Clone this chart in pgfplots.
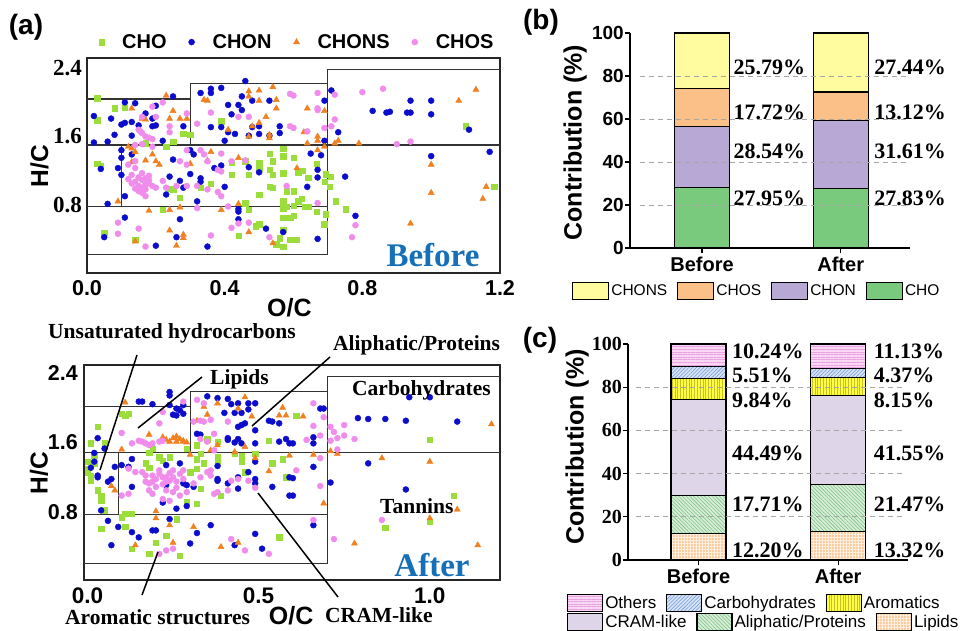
\documentclass[border=0pt]{standalone}
\usepackage{fontspec}
\setmainfont{Liberation Serif}
\setsansfont{Liberation Sans}
\usepackage{pgfplots}
\pgfplotsset{compat=1.18}
\usetikzlibrary{patterns,patterns.meta}

\newcommand{\sfb}[1]{\sffamily\bfseries\fontsize{#1}{#1}\selectfont}
\newcommand{\rmb}[1]{\rmfamily\bfseries\fontsize{#1}{#1}\selectfont}
\newcommand{\sfr}[1]{\sffamily\fontsize{#1}{#1}\selectfont}

\definecolor{choG}{RGB}{155,222,60}
\definecolor{chonB}{RGB}{12,12,205}
\definecolor{chonsO}{RGB}{240,128,32}
\definecolor{chosP}{RGB}{240,140,235}
\definecolor{barCHO}{RGB}{122,202,125}
\definecolor{barCHON}{RGB}{184,168,214}
\definecolor{barCHOS}{RGB}{250,192,135}
\definecolor{barCHONS}{RGB}{255,252,160}
\definecolor{othF}{RGB}{250,215,245}\definecolor{othL}{RGB}{232,160,222}
\definecolor{carbF}{RGB}{215,228,245}\definecolor{carbL}{RGB}{110,150,215}
\definecolor{aromF}{RGB}{255,255,70}\definecolor{aromL}{RGB}{200,190,40}
\definecolor{cramF}{RGB}{222,214,232}
\definecolor{aliF}{RGB}{215,238,215}\definecolor{aliL}{RGB}{120,190,130}
\definecolor{lipF}{RGB}{250,205,160}\definecolor{lipL}{RGB}{255,240,225}
\definecolor{txtBlue}{RGB}{22,112,184}

\tikzset{regline/.style={line width=1.1pt, black!80},
  blab/.style={anchor=west, inner sep=0pt, font=\rmb{22}},
  ann/.style={anchor=west, inner sep=0pt, font=\rmb{21.5}},
  gdash/.style={gray!70, line width=1pt, dash pattern=on 5pt off 4pt},
  pOth/.style={fill=othF, postaction={pattern={Lines[angle=0, distance=2.6pt, line width=0.55pt]}, pattern color=othL}},
  pCarb/.style={fill=carbF, postaction={pattern={Lines[angle=45, distance=2.6pt, line width=0.55pt]}, pattern color=carbL}},
  pArom/.style={fill=aromF, postaction={pattern={Lines[angle=90, distance=2.8pt, line width=0.6pt]}, pattern color=aromL}},
  pCram/.style={fill=cramF},
  pAli/.style={fill=aliF, postaction={pattern={Lines[angle=-45, distance=2.6pt, line width=0.55pt]}, pattern color=aliL}},
  pLip/.style={fill=lipF, postaction={pattern={Hatch[distance=3pt, line width=0.7pt]}, pattern color=lipL}}}
\pgfplotsset{
  vkscatter/.style={scale only axis, height=215pt,
    major tick length=0pt,
    axis line style={line width=1.2pt, black!85},
    xlabel={O/C}, ylabel={H/C}},
  pCHO/.style={only marks, mark=square*, mark size=2.7pt, color=choG},
  pCHON/.style={only marks, mark=*, mark size=3pt, color=chonB},
  pCHONS/.style={only marks, mark=triangle*, mark size=3.5pt, color=chonsO},
  pCHOS/.style={only marks, mark=*, mark size=3pt, color=chosP},
  vkbar/.style={scale only axis, width=280pt, clip=false,
    ymin=0, ymax=100,
    axis x line*=bottom, axis y line*=left,
    axis line style={line width=1.2pt},
    ybar stacked, bar width=55pt,
    xtick={0,1}, xticklabels={Before,After},
    ytick={0,20,40,60,80,100}, yticklabels={0,20,40,60,80,100},
    tick align=outside, major tick length=5pt,
    tick style={black, line width=1.2pt},
    xticklabel style={font=\sfb{20}, inner sep=0pt, yshift=-4pt},
    ylabel={Contribution (\%)}},
  bseg/.style={draw=black, line width=1.1pt},
  legax/.style={scale only axis, width=280pt, height=215pt, hide axis,
    xmin=0, xmax=1, ymin=0, ymax=1},
}

\begin{document}
\begin{tikzpicture}
\useasboundingbox (0pt,0pt) rectangle (965pt,-630pt);

%================ (a) Before =================
\begin{axis}[vkscatter,
  at={(87pt,-273pt)}, anchor=south west, width=413pt,
  xmin=0, xmax=1.2, ymin=0, ymax=2.52,
  xtick={0,0.4,0.8,1.2}, xticklabels={0.0,0.4,0.8,1.2},
  ytick={0.8,1.6,2.4}, yticklabels={0.8,1.6,2.4},
  xticklabel style={font=\sfb{21.5}, inner sep=0pt, yshift=-7pt},
  yticklabel style={font=\rmb{23}, inner sep=0pt, xshift=-5pt},
  xlabel style={font=\sfb{25}, at={(axis description cs:0.49,-0.163)}, anchor=center},
  ylabel style={font=\sfb{24.5}, at={(axis description cs:-0.115,0.498)}, anchor=center},
  legend columns=4,
  legend style={at={(axis description cs:0.028,1.074)}, anchor=west, draw=none, fill=none,
    inner sep=0pt, font=\sfb{20}, 
    /tikz/every odd column/.append style={column sep=16pt},
    /tikz/every even column/.append style={column sep=20pt}},
]
\draw[regline] (axis cs:0,1.5) -- (axis cs:1.2,1.5);
\draw[regline] (axis cs:0,2.04) -- (axis cs:0.3,2.04);
\draw[regline] (axis cs:0.3,1.5) -- (axis cs:0.3,2.22) -- (axis cs:0.7,2.22);
\draw[regline] (axis cs:0.7,0.22) -- (axis cs:0.7,2.39) -- (axis cs:1.2,2.39);
\draw[regline] (axis cs:0.1,0.78) -- (axis cs:0.1,1.5);
\draw[regline] (axis cs:0,0.78) -- (axis cs:0.7,0.78);
\draw[regline] (axis cs:0,0.22) -- (axis cs:0.7,0.22);

\addplot[pCHO] coordinates {
(0.03,2.05)(0.08,1.93)(0.11,1.94)(0.03,1.79)(0.28,1.63)(0.30,1.62)(0.39,1.78)(0.23,1.48)(0.17,1.52)(0.25,1.54)
(0.03,1.28)(0.04,1.25)(0.42,1.29)(0.46,1.31)(0.50,1.29)(0.50,1.23)(0.53,1.40)(0.54,1.31)(0.53,1.21)(0.57,1.46)
(0.57,1.37)(0.60,1.35)(0.54,1.15)(0.57,1.17)(0.47,1.15)(0.42,1.15)(0.36,1.05)(0.33,1.00)(0.24,0.99)(0.25,0.98)
(0.53,1.01)(0.54,1.00)(0.58,0.96)(0.60,0.96)(0.50,0.92)(0.57,0.84)(0.57,0.76)(0.58,0.78)(0.60,0.79)(0.47,0.74)
(0.46,0.82)(0.22,0.74)(0.57,0.65)(0.59,0.65)(0.60,0.67)(0.50,0.57)(0.49,0.55)(0.57,0.51)(0.44,0.44)(0.56,0.41)
(0.55,0.34)(0.57,0.31)(0.59,0.39)(0.05,0.47)(0.14,0.39)(0.27,0.88)
(0.667,1.28)(0.626,1.20)(0.614,1.18)(0.643,1.12)(0.690,1.07)(0.694,1.16)(0.708,1.13)(0.706,1.01)(0.723,0.84)
(0.752,0.75)(0.694,0.69)(0.689,0.57)(0.609,0.39)(0.667,0.72)(0.624,0.87)(0.643,0.78)(0.634,0.78)(0.614,0.84)
(1.101,1.72)(1.183,1.01)};
\addlegendentry{CHO}
\addplot[pCHON] coordinates {
(0.46,2.25)(0.36,2.16)(0.39,2.17)(0.33,2.11)(0.36,2.11)(0.25,2.07)(0.45,2.07)(0.53,2.02)(0.48,2.02)(0.41,1.97)
(0.44,1.97)(0.11,2.00)(0.14,1.99)(0.20,1.96)(0.02,1.84)(0.07,1.81)(0.11,1.76)(0.10,1.74)(0.13,1.77)(0.17,1.87)
(0.19,1.81)(0.20,1.73)(0.19,1.72)(0.15,1.73)(0.28,1.72)(0.08,1.62)(0.13,1.61)(0.22,1.55)(0.06,1.54)(0.02,1.53)
(0.42,1.86)(0.45,1.91)(0.36,1.71)(0.39,1.71)(0.48,1.71)(0.50,1.72)(0.56,1.72)(0.43,1.63)(0.50,1.63)(0.53,1.61)
(0.56,1.64)(0.47,1.61)(0.41,1.65)(0.40,1.55)(0.10,1.44)(0.10,1.35)(0.04,1.22)(0.09,1.23)(0.10,1.15)(0.13,1.39)
(0.30,1.44)(0.31,1.39)(0.25,1.33)(0.30,1.16)(0.24,1.13)(0.27,1.08)(0.33,1.11)(0.28,1.00)(0.33,1.07)(0.37,1.23)
(0.39,1.26)(0.40,1.01)(0.47,1.24)(0.50,1.18)(0.44,0.75)(0.44,0.72)(0.44,0.63)(0.32,0.84)(0.23,0.92)(0.11,0.90)
(0.06,0.81)(0.11,0.65)(0.27,0.63)(0.05,0.42)(0.20,0.32)(0.35,0.31)(0.26,0.42)(0.52,0.52)(0.57,0.48)
(0.71,2.14)(0.69,2.02)(0.73,1.65)(0.69,1.55)(0.68,1.38)(0.65,1.40)(0.67,1.21)(0.67,1.12)(0.64,1.01)(0.75,1.13)
(0.78,0.67)(0.67,0.40)(0.83,1.90)(0.87,1.88)(0.88,1.89)(0.93,1.88)(0.94,1.88)(0.94,2.02)(1.00,2.02)(1.00,1.86)
(1.11,1.68)(1.00,1.37)(1.17,1.42)};
\addlegendentry{CHON}
\addplot[pCHONS] coordinates {
(0.23,2.08)(0.25,1.90)(0.24,1.81)(0.16,1.81)(0.17,1.80)(0.13,1.93)(0.27,1.81)(0.29,1.81)(0.47,2.13)(0.50,2.14)
(0.54,2.18)(0.47,2.07)(0.50,2.02)(0.55,2.03)(0.55,1.93)(0.52,1.83)(0.48,1.72)(0.50,1.76)(0.53,1.58)(0.53,1.62)
(0.47,1.60)(0.41,1.68)(0.34,2.03)(0.35,2.02)(0.12,1.48)(0.13,1.46)(0.14,1.42)(0.19,1.39)(0.13,1.30)(0.17,1.32)
(0.20,1.31)(0.21,1.27)(0.30,1.28)(0.36,1.42)(0.35,1.32)(0.44,1.35)(0.61,1.23)(0.09,0.84)(0.18,0.73)(0.24,0.74)
(0.27,0.77)(0.39,0.74)(0.44,0.81)(0.14,0.37)(0.24,0.50)(0.28,0.45)(0.28,0.41)(0.26,0.32)(0.47,0.48)(0.54,0.35)
(0.64,1.93)(0.69,1.90)(0.63,1.65)(0.67,1.60)(0.67,1.55)(0.64,1.52)(0.69,1.48)(0.67,1.44)(0.72,1.52)(0.73,1.55)
(0.79,1.52)(1.13,2.15)(1.08,2.02)(1.00,1.27)(1.00,0.94)(1.16,1.01)(1.15,0.87)(0.94,0.58)};
\addlegendentry{CHONS}
\addplot[pCHOS] coordinates {
(0.19,1.95)(0.22,2.00)(0.20,1.83)(0.16,1.83)(0.15,1.68)(0.16,1.64)(0.17,1.60)(0.19,1.57)(0.24,1.65)(0.24,1.72)
(0.29,1.87)(0.32,1.75)(0.36,1.88)(0.44,1.83)(0.47,1.83)(0.59,2.10)(0.60,2.08)(0.59,1.72)(0.60,1.70)(0.14,1.50)
(0.16,1.51)(0.19,1.48)(0.29,1.44)(0.27,1.31)(0.29,1.27)(0.33,1.44)(0.34,1.39)(0.35,1.31)(0.38,1.21)(0.39,1.19)
(0.39,1.40)(0.42,1.31)(0.46,1.32)(0.14,1.07)(0.16,1.09)(0.17,1.11)(0.18,1.09)(0.15,1.02)(0.16,1.00)(0.17,1.04)
(0.18,1.05)(0.15,0.96)(0.16,0.94)(0.17,0.90)(0.13,1.15)(0.14,1.23)(0.12,1.27)(0.14,1.31)(0.22,1.08)(0.20,1.00)
(0.23,1.00)(0.26,1.02)(0.29,1.02)(0.32,1.02)(0.38,0.95)(0.39,0.90)(0.35,0.98)(0.58,1.02)(0.41,0.78)(0.44,0.58)
(0.47,0.59)(0.53,0.42)(0.36,0.44)(0.09,0.59)(0.09,0.46)(0.15,0.52)(0.17,0.31)(0.42,0.53)(0.32,0.76)
(0.13,1.05)(0.15,1.12)(0.17,0.98)(0.19,1.02)(0.14,0.99)(0.12,1.10)(0.18,1.14)(0.16,1.17)(0.155,1.66)(0.18,1.585)
(0.67,2.11)(0.72,2.09)(0.67,1.93)(0.67,1.91)(0.72,1.80)(0.71,1.72)(0.69,1.70)(0.64,1.66)(0.80,2.12)(0.86,2.16)
(0.90,1.51)(0.94,1.54)(0.67,0.82)(0.78,0.56)(0.77,0.42)};
\addlegendentry{CHOS}
\end{axis}

%================ (a) After =================
\begin{axis}[vkscatter,
  at={(84pt,-580pt)}, anchor=south west, width=416pt,
  xmin=-0.01, xmax=1.205, ymin=0.02, ymax=2.49,
  xtick={0,0.5,1}, xticklabels={0.0,0.5,1.0},
  ytick={0.8,1.6,2.4}, yticklabels={0.8,1.6,2.4},
  xticklabel style={font=\sfb{22.5}, inner sep=0pt, yshift=-8pt},
  yticklabel style={font=\sfb{21.5}, inner sep=0pt, xshift=-6pt},
  xlabel style={font=\sfb{25}, at={(axis description cs:0.498,-0.165)}, anchor=center},
  ylabel style={font=\sfb{24.5}, at={(axis description cs:-0.108,0.498)}, anchor=center},
]
\draw[regline] (axis cs:-0.01,1.49) -- (axis cs:1.205,1.49);
\draw[regline] (axis cs:-0.01,2.016) -- (axis cs:0.3,2.016);
\draw[regline] (axis cs:0.3,1.49) -- (axis cs:0.3,2.19) -- (axis cs:0.702,2.19);
\draw[regline] (axis cs:0.702,0.213) -- (axis cs:0.702,2.353) -- (axis cs:1.205,2.353);
\draw[regline] (axis cs:0.09,0.77) -- (axis cs:0.09,1.49);
\draw[regline] (axis cs:-0.01,0.77) -- (axis cs:0.702,0.77);
\draw[regline] (axis cs:-0.01,0.213) -- (axis cs:0.702,0.213);

\addplot[pCHO] coordinates {
(0.11,1.91)(0.12,1.93)(0.10,1.93)(0.03,1.78)(0.01,1.59)(0.05,1.59)(0.00,1.38)(0.01,1.22)(0.01,1.16)(0.02,1.36)
(0.04,0.99)(0.04,0.93)(0.05,0.82)(0.04,0.61)(0.10,0.74)(0.11,0.78)(0.13,0.78)(0.11,0.63)(0.18,1.48)(0.19,1.53)
(0.21,1.43)(0.17,1.36)(0.18,1.31)(0.22,1.39)(0.24,1.43)(0.29,1.53)(0.32,1.57)(0.35,1.64)(0.38,1.61)(0.33,1.47)
(0.32,1.41)(0.38,1.44)(0.38,1.38)(0.34,1.36)(0.32,1.30)(0.30,1.26)(0.33,1.07)(0.32,0.90)(0.29,0.92)(0.43,1.47)
(0.45,1.45)(0.45,1.38)(0.46,1.26)(0.49,1.47)(0.53,1.62)(0.54,1.36)(0.57,1.41)(0.58,1.20)(0.39,0.99)(0.26,0.72)
(0.23,0.53)(0.20,0.45)(0.18,0.32)(0.13,0.38)(0.27,0.30)(0.56,0.51)(0.00,1.25)(0.00,1.30)(0.02,1.45)(0.03,1.05)
(0.61,1.91)(1.00,1.63)(1.07,0.99)(1.00,0.69)(0.87,0.62)};
\addplot[pCHON] coordinates {
(0.24,2.18)(0.24,2.14)(0.15,2.07)(0.16,2.07)(0.19,2.04)(0.24,2.03)(0.26,1.99)(0.27,1.97)(0.28,2.03)(0.35,2.13)
(0.38,2.11)(0.41,2.10)(0.44,2.05)(0.47,2.05)(0.49,2.05)(0.42,2.04)(0.40,1.94)(0.43,1.94)(0.45,1.94)(0.47,1.98)
(0.25,1.92)(0.26,1.91)(0.28,1.93)(0.45,1.80)(0.46,1.82)(0.44,1.78)(0.49,1.74)(0.32,1.70)(0.33,1.69)(0.41,1.65)
(0.41,1.63)(0.43,1.60)(0.45,1.59)(0.44,1.64)(0.49,1.59)(0.54,1.84)(0.53,1.85)(0.56,1.82)(0.56,1.61)(0.58,1.64)
(0.59,1.59)(0.03,1.65)(0.02,1.48)(0.05,1.53)(0.02,1.38)(0.01,1.31)(0.03,1.22)(0.03,1.20)(0.07,1.18)(0.06,1.15)
(0.08,1.32)(0.10,1.34)(0.12,1.32)(0.13,1.41)(0.23,1.34)(0.27,1.36)(0.28,1.13)(0.29,1.11)(0.31,1.09)(0.23,1.11)
(0.13,1.09)(0.38,1.33)(0.38,1.18)(0.38,1.16)(0.41,1.13)(0.44,1.07)(0.44,1.20)(0.49,1.38)(0.49,1.18)(0.49,1.13)
(0.47,1.26)(0.54,1.09)(0.59,1.20)(0.59,0.99)(0.22,0.91)(0.26,0.84)(0.29,0.87)(0.24,0.72)(0.13,0.57)(0.19,0.59)
(0.20,0.59)(0.06,0.70)(0.09,0.63)(0.15,0.51)(0.07,0.42)(0.30,0.44)(0.36,0.65)(0.32,0.56)(0.43,0.42)(0.49,0.55)
(0.51,0.38)(0.04,0.82)
(0.68,1.99)(0.69,1.99)(0.79,1.88)(0.82,1.87)(0.87,1.87)(0.93,1.85)(1.08,1.84)(0.94,2.12)(1.00,2.12)(0.66,1.66)
(0.66,1.59)(0.60,1.59)(0.82,1.36)(0.66,1.32)(0.60,1.19)(0.71,1.14)(0.60,0.99)(0.93,1.06)(0.66,0.65)};
\addplot[pCHONS] coordinates {
(0.46,2.12)(0.38,2.05)(0.34,2.01)(0.44,1.99)(0.48,1.90)(0.35,1.92)(0.32,1.85)(0.57,2.00)(0.56,1.91)(0.58,1.91)
(0.25,1.65)(0.26,1.61)(0.28,1.61)(0.28,1.62)(0.24,1.61)(0.18,1.69)(0.10,1.52)(0.30,1.46)(0.36,1.51)(0.38,1.57)
(0.43,1.49)(0.46,1.55)(0.49,1.42)(0.53,1.27)(0.59,1.45)(0.07,1.10)(0.08,1.05)(0.20,0.73)(0.24,0.65)(0.31,0.63)
(0.25,0.45)(0.14,0.42)(0.39,0.40)(0.44,0.45)(0.20,0.81)(0.11,2.06)(0.22,1.66)(0.23,1.63)(0.27,1.64)(0.29,1.60)
(0.26,1.67)
(0.63,1.90)(0.66,1.46)(0.71,1.50)(0.73,1.47)(0.86,1.42)(1.00,1.38)(1.18,1.81)(0.69,0.90)(1.08,0.83)(1.00,0.73)
(0.78,0.44)(1.14,0.42)};
\addplot[pCHOS] coordinates {
(0.28,2.07)(0.32,2.09)(0.34,2.05)(0.22,1.95)(0.21,1.82)(0.10,1.71)(0.13,1.59)(0.15,1.62)(0.16,1.61)(0.17,1.59)
(0.18,1.57)(0.19,1.59)(0.21,1.61)(0.22,1.62)(0.31,1.84)(0.33,1.85)(0.34,1.84)(0.36,1.86)(0.41,1.84)(0.33,1.64)
(0.37,1.70)(0.35,1.61)(0.37,1.51)(0.12,1.30)(0.14,1.26)(0.16,1.26)(0.19,1.22)(0.21,1.24)(0.22,1.20)(0.23,1.20)
(0.25,1.20)(0.27,1.24)(0.28,1.28)(0.24,1.16)(0.26,1.15)(0.28,1.18)(0.17,1.15)(0.18,1.13)(0.19,1.15)(0.20,1.09)
(0.18,1.05)(0.19,1.01)(0.23,1.05)(0.25,1.03)(0.29,1.03)(0.33,1.20)(0.36,1.22)(0.37,1.01)(0.38,1.03)(0.41,1.05)
(0.42,1.16)(0.44,1.18)(0.47,1.16)(0.49,1.08)(0.35,1.26)(0.36,1.28)(0.10,0.99)(0.12,1.01)(0.22,0.95)(0.24,0.93)
(0.27,0.99)(0.42,0.49)(0.46,0.36)(0.53,0.32)(0.31,1.13)(0.25,0.38)(0.23,0.36)(0.21,0.32)
(0.20,1.18)(0.22,1.12)(0.24,1.25)(0.26,1.08)(0.21,1.28)(0.17,1.22)(0.23,1.15)(0.25,1.28)
(0.66,2.05)(0.69,1.89)(0.66,1.79)(0.75,1.80)(0.71,1.78)(0.72,1.72)(0.75,1.68)(0.73,1.65)(0.71,1.62)(0.64,1.63)
(0.68,1.68)(0.78,1.64)(0.73,1.52)(0.68,1.42)(0.61,1.28)(0.68,1.10)(0.66,0.71)(0.86,0.71)(0.72,0.49)};
\end{axis}

%================ (b) =================
\begin{axis}[vkbar,
  at={(630pt,-248pt)}, anchor=south west, height=215pt,
  xmin=-0.52, xmax=1.5,
  yticklabel style={font=\sfb{19}, inner sep=0pt, xshift=-1pt},
  ylabel style={font=\sfb{25}, at={(axis description cs:-0.196,0.49)}, anchor=center},
]
\draw[gdash] (axis cs:-0.45,20) -- (axis cs:1.48,20);
\draw[gdash] (axis cs:-0.45,40) -- (axis cs:1.48,40);
\draw[gdash] (axis cs:-0.45,60) -- (axis cs:1.48,60);
\draw[gdash] (axis cs:-0.45,80) -- (axis cs:1.48,80);
\addplot[bseg, fill=barCHO] coordinates {(0,27.95) (1,27.83)};
\addplot[bseg, fill=barCHON] coordinates {(0,28.54) (1,31.61)};
\addplot[bseg, fill=barCHOS] coordinates {(0,17.72) (1,13.12)};
\addplot[bseg, fill=barCHONS] coordinates {(0,25.79) (1,27.44)};
\node[blab, xshift=4pt] at (axis cs:0.198,84) {25.79\%};
\node[blab, xshift=4pt] at (axis cs:0.198,63) {17.72\%};
\node[blab, xshift=4pt] at (axis cs:0.198,45) {28.54\%};
\node[blab, xshift=4pt] at (axis cs:0.198,23) {27.95\%};
\node[blab, xshift=6pt] at (axis cs:1.198,84) {27.44\%};
\node[blab, xshift=6pt] at (axis cs:1.198,63) {13.12\%};
\node[blab, xshift=6pt] at (axis cs:1.198,45) {31.61\%};
\node[blab, xshift=6pt] at (axis cs:1.198,23) {27.83\%};
\end{axis}
\begin{axis}[legax, at={(630pt,-248pt)}, anchor=south west,
  legend columns=4,
  legend style={at={(axis description cs:-0.207,-0.2)}, anchor=west, draw=none, fill=none,
    inner sep=0pt, font=\sfr{15.5}, nodes={inner sep=2pt},
    /tikz/every even column/.append style={column sep=8pt}}]
\addlegendimage{legend image code/.code={\draw[fill=barCHONS, draw=black, line width=1.1pt] (0pt,-8.5pt) rectangle (36pt,8.5pt);}}
\addlegendentry{CHONS}
\addlegendimage{legend image code/.code={\draw[fill=barCHOS, draw=black, line width=1.1pt] (0pt,-8.5pt) rectangle (36pt,8.5pt);}}
\addlegendentry{CHOS}
\addlegendimage{legend image code/.code={\draw[fill=barCHON, draw=black, line width=1.1pt] (0pt,-8.5pt) rectangle (36pt,8.5pt);}}
\addlegendentry{CHON}
\addlegendimage{legend image code/.code={\draw[fill=barCHO, draw=black, line width=1.1pt] (0pt,-8.5pt) rectangle (36pt,8.5pt);}}
\addlegendentry{CHO}
\end{axis}

%================ (c) =================
\begin{axis}[vkbar,
  at={(628pt,-560pt)}, anchor=south west, height=216pt,
  xmin=-0.505, xmax=1.5,
  yticklabel style={font=\rmb{20}, inner sep=0pt, xshift=-1pt},
  ylabel style={font=\sfb{25}, at={(axis description cs:-0.182,0.523)}, anchor=center},
]
\draw[gdash] (axis cs:-0.45,20) -- (axis cs:1.48,20);
\draw[gdash] (axis cs:-0.45,40) -- (axis cs:1.48,40);
\draw[gdash] (axis cs:-0.45,60) -- (axis cs:1.48,60);
\draw[gdash] (axis cs:-0.45,80) -- (axis cs:1.48,80);
\addplot[bseg, pLip] coordinates {(0,12.20) (1,13.32)};
\addplot[bseg, pAli] coordinates {(0,17.71) (1,21.47)};
\addplot[bseg, pCram] coordinates {(0,44.49) (1,41.55)};
\addplot[bseg, pArom] coordinates {(0,9.84) (1,8.15)};
\addplot[bseg, pCarb] coordinates {(0,5.51) (1,4.37)};
\addplot[bseg, pOth] coordinates {(0,10.24) (1,11.13)};
\node[blab, xshift=6pt] at (axis cs:0.197,96.8) {10.24\%};
\node[blab, xshift=6pt] at (axis cs:0.197,85.6) {5.51\%};
\node[blab, xshift=6pt] at (axis cs:0.197,74) {9.84\%};
\node[blab, xshift=6pt] at (axis cs:0.197,49.5) {44.49\%};
\node[blab, xshift=6pt] at (axis cs:0.197,26) {17.71\%};
\node[blab, xshift=6pt] at (axis cs:0.197,4.6) {12.20\%};
\node[blab, xshift=8pt] at (axis cs:1.197,96.8) {11.13\%};
\node[blab, xshift=8pt] at (axis cs:1.197,85.6) {4.37\%};
\node[blab, xshift=8pt] at (axis cs:1.197,74) {8.15\%};
\node[blab, xshift=8pt] at (axis cs:1.197,49.5) {41.55\%};
\node[blab, xshift=8pt] at (axis cs:1.197,26) {21.47\%};
\node[blab, xshift=8pt] at (axis cs:1.197,4.6) {13.32\%};
\end{axis}
\begin{axis}[legax, at={(628pt,-560pt)}, anchor=south west, height=216pt,
  legend columns=3,
  legend style={at={(axis description cs:-0.218,-0.199)}, anchor=west, draw=none, fill=none,
    inner sep=0pt, font=\sfr{17}, nodes={inner sep=2pt},
    /tikz/every even column/.append style={column sep=8pt}}]
\addlegendimage{legend image code/.code={\draw[pOth, draw=black, line width=1.1pt] (0pt,-8.5pt) rectangle (35pt,8.5pt);}}
\addlegendentry{Others}
\addlegendimage{legend image code/.code={\draw[pCarb, draw=black, line width=1.1pt] (0pt,-8.5pt) rectangle (35pt,8.5pt);}}
\addlegendentry{Carbohydrates}
\addlegendimage{legend image code/.code={\draw[pArom, draw=black, line width=1.1pt] (0pt,-8.5pt) rectangle (35pt,8.5pt);}}
\addlegendentry{Aromatics}
\end{axis}
\begin{axis}[legax, at={(628pt,-560pt)}, anchor=south west, height=216pt,
  legend columns=3,
  legend style={at={(axis description cs:-0.218,-0.287)}, anchor=west, draw=none, fill=none,
    inner sep=0pt, font=\sfr{17}, nodes={inner sep=2pt},
    /tikz/every even column/.append style={column sep=8pt}}]
\addlegendimage{legend image code/.code={\draw[pCram, draw=black, line width=1.1pt] (0pt,-8.5pt) rectangle (35pt,8.5pt);}}
\addlegendentry{CRAM-like}
\addlegendimage{legend image code/.code={\draw[pAli, draw=black, line width=1.1pt] (0pt,-8.5pt) rectangle (35pt,8.5pt);}}
\addlegendentry{Aliphatic/Proteins}
\addlegendimage{legend image code/.code={\draw[pLip, draw=black, line width=1.1pt] (0pt,-8.5pt) rectangle (35pt,8.5pt);}}
\addlegendentry{Lipids}
\end{axis}

%================ annotations =================
\node[font=\sfb{28}] at (26pt,-27pt) {(a)};
\node[font=\sfb{28}] at (541pt,-22pt) {(b)};
\node[font=\sfb{28}] at (540pt,-340pt) {(c)};
\node[font=\rmb{33}, text=txtBlue] at (433pt,-255pt) {Before};
\node[font=\rmb{33}, text=txtBlue] at (432pt,-565pt) {After};
\node[ann] at (48pt,-333pt) {Unsaturated hydrocarbons};
\node[ann] at (333pt,-345pt) {Aliphatic/Proteins};
\node[ann] at (210pt,-379pt) {Lipids};
\node[ann] at (352pt,-390pt) {Carbohydrates};
\node[ann] at (380pt,-506pt) {Tannins};
\node[ann] at (65pt,-617pt) {Aromatic structures};
\node[ann] at (325pt,-615.5pt) {CRAM-like};
\draw[line width=1.5pt] (137pt,-355pt) -- (100pt,-470pt);
\draw[line width=1.5pt] (202pt,-377pt) -- (138pt,-428pt);
\draw[line width=1.5pt] (330pt,-357pt) -- (252pt,-426pt);
\draw[line width=1.5pt] (258pt,-493pt) -- (338pt,-597pt);
\draw[line width=1.5pt] (158pt,-552pt) -- (142pt,-595pt);
\end{tikzpicture}
\end{document}
